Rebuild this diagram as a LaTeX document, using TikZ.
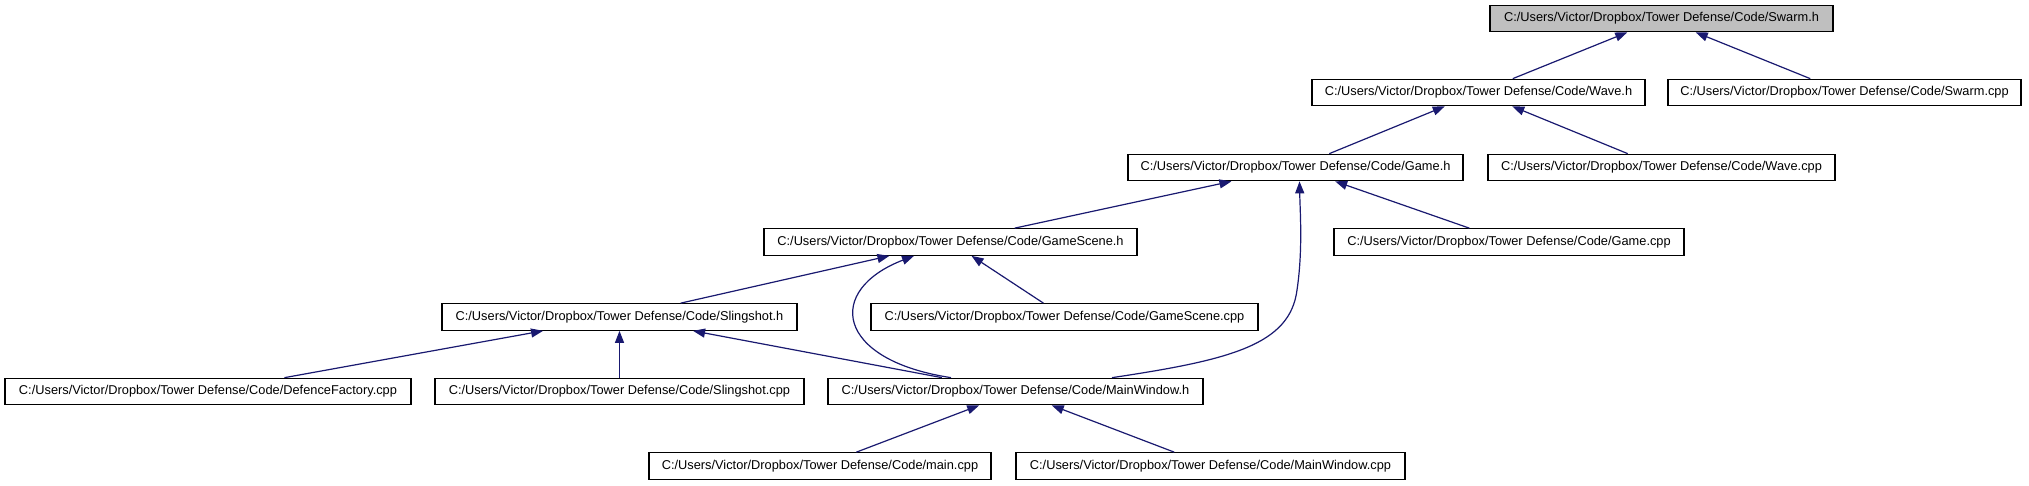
\documentclass[tikz,border=0pt]{standalone}
\usepackage{fontspec}
\setmainfont{Liberation Sans}
\usetikzlibrary{arrows.meta}
\definecolor{edgeblue}{HTML}{191970}
\definecolor{rootgray}{HTML}{BFBFBF}
\tikzset{
  filebox/.style={draw=black, line width=1.2pt, fill=white, inner sep=0pt,
    minimum height=26.5pt, font=\fontsize{12.8}{14}\selectfont},
  rootbox/.style={filebox, fill=rootgray},
  dep/.style={draw=edgeblue, line width=1.2pt,
    -{Triangle[length=12pt,width=9pt]}},
}
\begin{document}
\begin{tikzpicture}[x=1pt,y=-1pt]
\useasboundingbox[fill=white] (0,0) rectangle (2029,485);
% row 0
\node[rootbox, minimum width=343pt] (swarmh) at (1661.5,18.5) {C:/Users/Victor/Dropbox/Tower Defense/Code/Swarm.h};
% row 1
\node[filebox, minimum width=333pt] (waveh) at (1478.5,92.5) {C:/Users/Victor/Dropbox/Tower Defense/Code/Wave.h};
\node[filebox, minimum width=353pt] (swarmcpp) at (1844.5,92.5) {C:/Users/Victor/Dropbox/Tower Defense/Code/Swarm.cpp};
% row 2
\node[filebox, minimum width=335pt] (gameh) at (1295.5,167.5) {C:/Users/Victor/Dropbox/Tower Defense/Code/Game.h};
\node[filebox, minimum width=347pt] (wavecpp) at (1661.5,167.5) {C:/Users/Victor/Dropbox/Tower Defense/Code/Wave.cpp};
% row 3
\node[filebox, minimum width=373pt] (gsh) at (950.5,242) {C:/Users/Victor/Dropbox/Tower Defense/Code/GameScene.h};
\node[filebox, minimum width=350pt] (gamecpp) at (1509,242) {C:/Users/Victor/Dropbox/Tower Defense/Code/Game.cpp};
% row 4
\node[filebox, minimum width=355pt] (slingh) at (619.5,317) {C:/Users/Victor/Dropbox/Tower Defense/Code/Slingshot.h};
\node[filebox, minimum width=387pt] (gscpp) at (1064.5,317) {C:/Users/Victor/Dropbox/Tower Defense/Code/GameScene.cpp};
% row 5
\node[filebox, minimum width=406pt] (dfcpp) at (208,391.5) {C:/Users/Victor/Dropbox/Tower Defense/Code/DefenceFactory.cpp};
\node[filebox, minimum width=369pt] (slingcpp) at (619.5,391.5) {C:/Users/Victor/Dropbox/Tower Defense/Code/Slingshot.cpp};
\node[filebox, minimum width=375pt] (mwh) at (1015.5,391.5) {C:/Users/Victor/Dropbox/Tower Defense/Code/MainWindow.h};
% row 6
\node[filebox, minimum width=342pt] (maincpp) at (820,466) {C:/Users/Victor/Dropbox/Tower Defense/Code/main.cpp};
\node[filebox, minimum width=389pt] (mwcpp) at (1210.5,466) {C:/Users/Victor/Dropbox/Tower Defense/Code/MainWindow.cpp};

% edges
\draw[dep] (waveh) -- (swarmh);
\draw[dep] (swarmcpp) -- (swarmh);
\draw[dep] (gameh) -- (waveh);
\draw[dep] (wavecpp) -- (waveh);
\draw[dep] (gsh) -- (gameh);
\draw[dep] (gamecpp) -- (gameh);
\draw[dep] (slingh) -- (gsh);
\draw[dep] (gscpp) -- (gsh);
\draw[dep] (dfcpp) -- (slingh);
\draw[dep] (slingcpp) -- (slingh);
\draw[dep] (mwh) -- (slingh);
\draw[dep] (maincpp) -- (mwh);
\draw[dep] (mwcpp) -- (mwh);
% curved edges
\draw[dep] ([xshift=-64.5pt]mwh.north) .. controls (835,360) and (825,290) .. ([xshift=-36.5pt]gsh.south);
\draw[dep] ([xshift=96.5pt]mwh.north) .. controls (1230,360) and (1290,345) .. (1297,290)
  .. controls (1303,250) and (1300,210) .. ([xshift=4pt]gameh.south);
\end{tikzpicture}
\end{document}
